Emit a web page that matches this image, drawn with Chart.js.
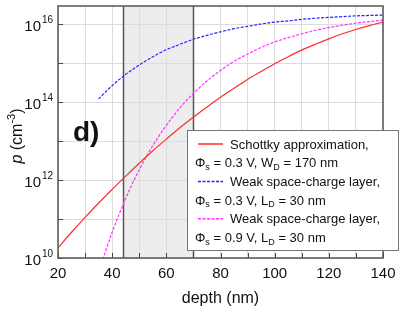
<!DOCTYPE html>
<html>
<head>
<meta charset="utf-8">
<script src="https://cdn.jsdelivr.net/npm/chart.js@4.4.1/dist/chart.umd.min.js"></script>
<style>
  html, body { margin: 0; padding: 0; background: #fff; }
</style>
</head>
<body>
<canvas id="chart" width="415" height="319"></canvas>
<script>
// depth in nm, hole concentration p in cm^-3
const depth = [20, 25, 30, 35, 40, 45, 50, 55, 60, 65, 70, 75, 80, 85, 90, 95, 100, 105, 110, 115, 120, 125, 130, 135, 140];
const schottky = [1.82e10, 4.57e10, 1.10e11, 2.57e11, 5.75e11, 1.26e12, 2.69e12, 5.62e12, 1.12e13, 2.19e13, 4.07e13, 7.41e13,
  1.32e14, 2.24e14, 3.80e14, 6.03e14, 9.55e14, 1.45e15, 2.14e15, 3.02e15, 4.17e15, 5.62e15, 7.24e15, 9.12e15, 1.12e16];

const weakDepth03 = [35, 40, 45, 50, 55, 60, 65, 70, 75, 80, 85, 90, 95, 100, 105, 110, 115, 120, 125, 130, 135, 140];
const weak03 = [1.20e14, 2.63e14, 5.13e14, 8.91e14, 1.45e15, 2.19e15, 3.02e15, 4.07e15, 5.13e15, 6.31e15, 7.59e15, 8.71e15,
  1.00e16, 1.12e16, 1.20e16, 1.32e16, 1.41e16, 1.48e16, 1.55e16, 1.62e16, 1.66e16, 1.70e16];

const weakDepth09 = [36, 40, 45, 50, 55, 60, 65, 70, 75, 80, 85, 90, 95, 100, 105, 110, 115, 120, 125, 130, 135, 140];
const weak09 = [7.1e9, 4.57e10, 3.39e11, 1.82e12, 7.59e12, 2.51e13, 7.08e13, 1.66e14, 3.47e14, 6.46e14, 1.10e15, 1.70e15,
  2.51e15, 3.47e15, 4.47e15, 5.62e15, 6.92e15, 8.13e15, 9.33e15, 1.05e16, 1.15e16, 1.26e16];

const yDecades = [10, 11, 12, 13, 14, 15, 16];   // gridlines, labels on even ones
const shadeRange = [44, 70];                      // grey band, nm
const panelLabel = 'd)';

const FONT = "'Liberation Sans', Arial, Helvetica, sans-serif";
const RED = 'rgb(255,45,45)', BLUE = 'rgb(35,35,255)', MAGENTA = 'rgb(255,50,255)';

const pts = (xs, ys) => xs.map((x, i) => ({ x: x, y: ys[i] }));

// draw text made of pieces: [text, kind] with kind '', 'it', 'sub', 'sup'
function fontFor(k, size) {
  if (k === 'it') return `italic ${size}px ${FONT}`;
  if (k === 'sub' || k === 'sup') return `${Math.round(size * 0.68)}px ${FONT}`;
  return `${size}px ${FONT}`;
}
function richWidth(ctx, segs, size) {
  let w = 0;
  segs.forEach(([t, k]) => {
    ctx.font = fontFor(k, size);
    w += ctx.measureText(t).width;
  });
  return w;
}
function drawRich(ctx, segs, x, y, size) {
  let cx = x;
  ctx.textBaseline = 'alphabetic';
  ctx.textAlign = 'left';
  segs.forEach(([t, k]) => {
    ctx.font = fontFor(k, size);
    let dy = 0;
    if (k === 'sub') dy = size * 0.22;
    if (k === 'sup') dy = -size * 0.42;
    ctx.fillText(t, cx, y + dy);
    cx += ctx.measureText(t).width;
  });
}

const legendItems = [
  { color: RED, dash: [], first: 'Schottky approximation,',
    second: [['Φ', ''], ['s', 'sub'], [' = 0.3 V, W', ''], ['D', 'sub'], [' = 170 nm', '']] },
  { color: BLUE, dash: [3, 1.5], first: 'Weak space-charge layer,',
    second: [['Φ', ''], ['s', 'sub'], [' = 0.3 V, L', ''], ['D', 'sub'], [' = 30 nm', '']] },
  { color: MAGENTA, dash: [3, 1.5], first: 'Weak space-charge layer,',
    second: [['Φ', ''], ['s', 'sub'], [' = 0.9 V, L', ''], ['D', 'sub'], [' = 30 nm', '']] }
];

const decor = {
  id: 'decor',
  beforeDraw(chart) {
    const { ctx, chartArea: a, scales: { x } } = chart;
    const x0 = x.getPixelForValue(shadeRange[0]), x1 = x.getPixelForValue(shadeRange[1]);
    ctx.save();
    ctx.fillStyle = '#ededed';
    ctx.fillRect(x0, a.top, x1 - x0, a.bottom - a.top);
    ctx.restore();
  },
  beforeDatasetsDraw(chart) {
    const { ctx, chartArea: a, scales: { x, y } } = chart;
    ctx.save();
    // band edges
    ctx.strokeStyle = '#555';
    ctx.lineWidth = 1.5;
    shadeRange.forEach(v => {
      const px = Math.round(x.getPixelForValue(v)) + 0.5;
      ctx.beginPath(); ctx.moveTo(px, a.top); ctx.lineTo(px, a.bottom); ctx.stroke();
    });
    // inward tick marks
    ctx.strokeStyle = '#444';
    ctx.lineWidth = 1;
    x.ticks.forEach(t => {
      const px = Math.round(x.getPixelForValue(t.value)) + 0.5;
      ctx.beginPath(); ctx.moveTo(px, a.bottom); ctx.lineTo(px, a.bottom - 5); ctx.stroke();
    });
    y.ticks.forEach(t => {
      const py = Math.round(y.getPixelForValue(t.value)) + 0.5;
      ctx.beginPath(); ctx.moveTo(a.left, py); ctx.lineTo(a.left + 5, py); ctx.stroke();
    });
    ctx.restore();
  },
  afterDatasetsDraw(chart) {
    const { ctx, chartArea: a, scales: { y } } = chart;
    ctx.save();
    // plot frame
    ctx.strokeStyle = '#555';
    ctx.lineWidth = 1.5;
    ctx.strokeRect(a.left, a.top, a.right - a.left, a.bottom - a.top);

    // y tick labels 10^n
    ctx.fillStyle = '#111';
    yDecades.filter(e => e % 2 === 0).forEach(e => {
      const py = y.getPixelForValue(Math.pow(10, e));
      ctx.font = `15px ${FONT}`;
      ctx.textAlign = 'right';
      ctx.textBaseline = 'alphabetic';
      ctx.fillText('10', a.left - 17, py + 7);
      ctx.font = `10px ${FONT}`;
      ctx.textAlign = 'left';
      ctx.fillText(String(e), a.left - 16, py - 1);
    });

    // y title
    const ySegs = [['p', 'it'], [' (cm', ''], ['-3', 'sup'], [')', '']];
    ctx.translate(22, (a.top + a.bottom) / 2 + 4);
    ctx.rotate(-Math.PI / 2);
    const w = richWidth(ctx, ySegs, 16);
    drawRich(ctx, ySegs, -w / 2, 0, 16);
    ctx.setTransform(1, 0, 0, 1, 0, 0);

    // panel label
    ctx.font = `bold 28px ${FONT}`;
    ctx.textAlign = 'left';
    ctx.fillText(panelLabel, a.left + 15, 141);

    // legend box
    const bx = 187, by = 130, bw = 211, bh = 120;
    ctx.fillStyle = '#fff';
    ctx.fillRect(bx, by, bw, bh);
    ctx.strokeStyle = '#777';
    ctx.lineWidth = 1;
    ctx.strokeRect(bx + 0.5, by + 0.5, bw, bh);
    legendItems.forEach((it, i) => {
      const cy1 = 144 + i * 37.4, cy2 = cy1 + 18.7;
      ctx.strokeStyle = it.color;
      ctx.lineWidth = 1.5;
      ctx.setLineDash(it.dash);
      ctx.beginPath(); ctx.moveTo(198, cy1); ctx.lineTo(223, cy1); ctx.stroke();
      ctx.setLineDash([]);
      ctx.fillStyle = '#111';
      ctx.font = `13px ${FONT}`;
      ctx.textAlign = 'left';
      ctx.textBaseline = 'alphabetic';
      ctx.fillText(it.first, 230, cy1 + 4.5);
      drawRich(ctx, it.second, 195, cy2 + 4.5, 13);
    });
    ctx.restore();
  }
};

const lineStyle = { borderWidth: 1.2, pointRadius: 0, tension: 0.4, cubicInterpolationMode: 'monotone', fill: false };

new Chart(document.getElementById('chart'), {
  type: 'line',
  data: {
    datasets: [
      Object.assign({ label: 'Schottky approximation', data: pts(depth, schottky), borderColor: RED }, lineStyle),
      Object.assign({ label: 'Weak space-charge layer 0.3 V', data: pts(weakDepth03, weak03), borderColor: BLUE, borderDash: [3, 1.5] }, lineStyle),
      Object.assign({ label: 'Weak space-charge layer 0.9 V', data: pts(weakDepth09, weak09), borderColor: MAGENTA, borderDash: [3, 1.5] }, lineStyle)
    ]
  },
  options: {
    responsive: false,
    animation: false,
    devicePixelRatio: 1,
    layout: { padding: { left: 0, top: 6, right: 32, bottom: 0 } },
    plugins: { legend: { display: false }, tooltip: { enabled: false } },
    scales: {
      x: {
        type: 'linear', min: 20, max: 140,
        ticks: {
          stepSize: 10, padding: 7, color: '#111',
          maxRotation: 0, minRotation: 0, autoSkip: false,
          font: { family: FONT, size: 15 },
          callback: v => (v % 20 === 0 ? v : '')
        },
        grid: { color: '#dcdcdc', drawTicks: false },
        border: { display: false },
        title: { display: true, text: 'depth (nm)', color: '#111', font: { family: FONT, size: 16 }, padding: { top: 0, bottom: 11 } },
        afterFit: s => { s.height = 61; }
      },
      y: {
        type: 'logarithmic', min: 1e10, max: 2.9e16,
        afterBuildTicks: s => { s.ticks = yDecades.map(e => ({ value: Math.pow(10, e) })); },
        ticks: { display: false },
        grid: { color: '#dcdcdc', drawTicks: false },
        border: { display: false },
        afterFit: s => { s.width = 58; }
      }
    }
  },
  plugins: [decor]
});
</script>
</body>
</html>
